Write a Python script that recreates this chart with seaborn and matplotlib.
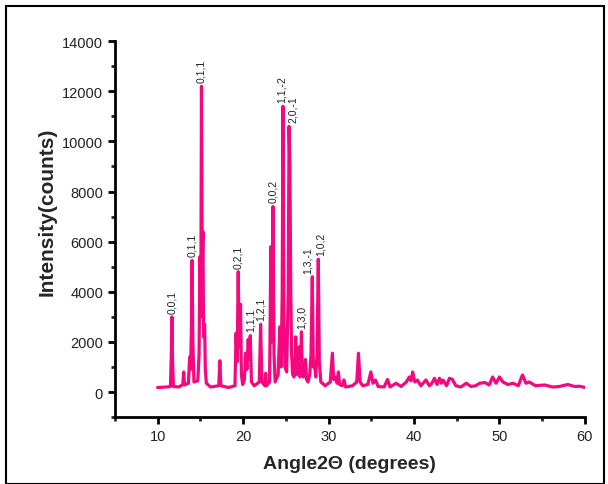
import matplotlib
matplotlib.use("Agg")
import matplotlib.pyplot as plt
from matplotlib.patches import Rectangle
from matplotlib.ticker import MultipleLocator
import seaborn as sns
import pandas as pd

# XRD pattern: 2-theta (degrees) and intensity (counts)
two_theta = [
    10.0, 11.0, 11.5, 11.6, 11.67, 11.75, 11.85, 12.5, 12.95, 13.05, 13.15,
    13.6, 13.75, 13.85, 13.95, 14.03, 14.12, 14.25, 14.7, 14.85, 14.95, 15.05,
    15.13, 15.22, 15.3, 15.38, 15.5, 15.58, 15.7, 16.2, 17.15, 17.28, 17.4,
    18.3, 19.05, 19.18, 19.3, 19.43, 19.55, 19.7, 19.8, 19.95, 20.15, 20.29,
    20.45, 20.6, 20.7, 20.84, 20.98, 21.3, 21.9, 22.05, 22.2, 22.55, 22.64,
    22.75, 23.1, 23.25, 23.35, 23.5, 23.62, 23.75, 24.1, 24.3, 24.45, 24.58,
    24.67, 24.78, 24.9, 25.1, 25.28, 25.38, 25.48, 25.58, 25.68, 25.8, 25.95,
    26.08, 26.16, 26.25, 26.4, 26.55, 26.65, 26.75, 26.83, 26.92, 27.05, 27.2,
    27.3, 27.42, 27.6, 27.8, 27.95, 28.1, 28.22, 28.35, 28.5, 28.65, 28.8,
    28.92, 29.1, 29.6, 30.2, 30.45, 30.6, 30.8, 31.0, 31.15, 31.3, 31.6, 31.8,
    32.0, 32.8, 33.3, 33.5, 33.7, 34.0, 34.6, 34.95, 35.2, 35.5, 35.8, 36.5,
    36.9, 37.2, 37.9, 38.5, 39.1, 39.45, 39.65, 39.85, 40.1, 40.4, 40.8, 41.4,
    41.8, 42.1, 42.4, 42.7, 42.98, 43.2, 43.4, 43.8, 44.15, 44.5, 44.9, 45.5,
    46.1, 46.7, 47.2, 47.7, 48.3, 48.8, 49.2, 49.6, 50.0, 50.4, 51.0, 51.6,
    52.2, 52.7, 53.1, 53.5, 54.2, 55.3, 56.2, 57.0, 58.0, 58.8, 59.4, 60.0,
]
counts = [
    180, 200, 220, 1500, 3000, 1200, 220, 200, 300, 800, 280,
    350, 1400, 900, 2500, 5250, 2000, 400, 450, 1500, 5400, 3000,
    12200, 5000, 6400, 2200, 2700, 900, 350, 200, 250, 1250, 250,
    180, 250, 2350, 1200, 4800, 1800, 3500, 700, 300, 500, 1550,
    900, 2100, 1300, 2250, 400, 250, 400, 2700, 400, 250, 750,
    250, 400, 5800, 2000, 7400, 1500, 400, 700, 2600, 1000, 4000,
    11400, 3000, 1000, 800, 4000, 10600, 9000, 4000, 1500, 700, 600,
    1200, 2200, 700, 1000, 1800, 600, 1200, 2400, 700, 600, 900,
    1300, 500, 400, 700, 1500, 4600, 1000, 1200, 600, 1500, 5300,
    1200, 400, 250, 400, 1550, 500, 600, 350, 800, 300, 250, 480,
    200, 250, 400, 1550, 400, 250, 300, 800, 350, 480, 220, 200,
    500, 200, 350, 220, 400, 600, 450, 800, 400, 480, 250, 480,
    250, 350, 550, 300, 550, 350, 480, 250, 550, 500, 250, 200,
    350, 220, 250, 350, 380, 280, 600, 350, 600, 400, 300, 350,
    250, 680, 350, 400, 250, 280, 200, 220, 300, 220, 230, 180,
]

# Miller-index labels and the peaks they belong to
peak_labels = ["0,0,1", "0,1,1", "0,1,1", "0,2,1", "1,1,1", "1,2,1",
               "0,0,2", "1,1,-2", "2,0,-1", "1,3,0", "1,3,-1", "1,0,2"]
peak_angles = [11.67, 14.03, 15.13, 19.43, 20.84, 22.05,
               23.5, 24.67, 25.38, 26.83, 28.1, 28.8]
peak_counts = [3000, 5250, 12200, 4800, 2250, 2700,
               7400, 11400, 10600, 2400, 4600, 5300]

# small sideways nudges (points) so crowded labels don't collide
nudge = {"1,1,-2": -1, "2,0,-1": 3, "1,3,-1": -3, "1,0,2": 2}

df = pd.DataFrame({"angle": two_theta, "counts": counts})

sns.set_style("ticks")
plt.rcParams["font.family"] = ["Liberation Sans", "DejaVu Sans"]

fig = plt.figure(figsize=(6.08, 4.85), dpi=100)
ax = fig.add_axes([0.189, 0.138, 0.773, 0.775])

sns.lineplot(data=df, x="angle", y="counts", color="#f5087f",
             linewidth=2.3, ax=ax, sort=False)

for lab, a, c in zip(peak_labels, peak_angles, peak_counts):
    ax.annotate(lab, (a, c), xytext=(nudge.get(lab, 0), 3),
                textcoords="offset points", rotation=90, ha="center",
                va="bottom", fontsize=7.5, color="#222222")

ax.set_xlim(5, 60)
ax.set_ylim(-1000, 14000)
ax.xaxis.set_major_locator(MultipleLocator(10))
ax.xaxis.set_minor_locator(MultipleLocator(5))
ax.yaxis.set_minor_locator(MultipleLocator(1000))
ax.set_yticks(range(0, 14001, 2000))

ax.tick_params(which="major", length=5, width=2, labelsize=10.5,
               colors="black", labelcolor="#222222")
ax.tick_params(which="minor", length=3, width=2)
for side in ["top", "right"]:
    ax.spines[side].set_visible(False)
for side in ["left", "bottom"]:
    ax.spines[side].set_linewidth(2)
    ax.spines[side].set_color("black")

ax.set_xlabel("Angle2\u0398 (degrees)", fontsize=14, fontweight="bold",
              labelpad=9)
ax.set_ylabel("Intensity(counts)", fontsize=15, fontweight="bold")
ax.yaxis.set_label_coords(-0.125, 0.55)

fig.add_artist(Rectangle((0.01, 0.0), 0.983, 0.985, transform=fig.transFigure,
                         fill=False, edgecolor="black", linewidth=1.5))

fig.savefig("out.png", dpi=100)
